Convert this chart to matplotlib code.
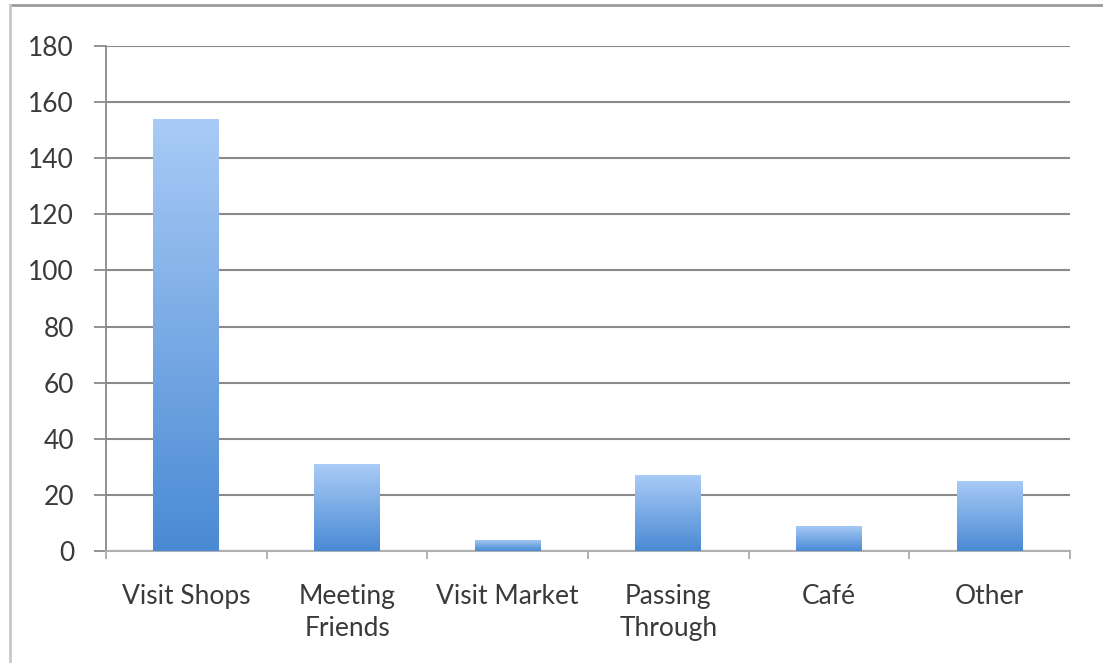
import numpy as np
import matplotlib.pyplot as plt
from matplotlib.colors import LinearSegmentedColormap
from matplotlib.lines import Line2D

categories = ["Visit Shops", "Meeting\nFriends", "Visit Market", "Passing\nThrough", "Café", "Other"]
counts = [154, 31, 4, 27, 9, 25]
y_ticks = [0, 20, 40, 60, 80, 100, 120, 140, 160, 180]

plt.rcParams['font.family'] = ['Lato', 'DejaVu Sans']

fig = plt.figure(figsize=(11.03, 6.63), dpi=100)
ax = fig.add_axes([0.0961, 0.169, 0.874, 0.7616])

x = np.arange(len(categories))
bars = ax.bar(x, counts, width=0.41, color="none", edgecolor="none", zorder=3)

# vertical gradient, light at top -> darker blue at bottom
cmap = LinearSegmentedColormap.from_list("bluegrad", ["#4a8ad4", "#a9cbf6"])
grad = np.linspace(0, 1, 256).reshape(-1, 1)
for b in bars:
    x0, y0 = b.get_x(), b.get_y()
    w, h = b.get_width(), b.get_height()
    im = ax.imshow(grad, cmap=cmap, origin="lower", aspect="auto",
                   extent=[x0, x0 + w, y0, y0 + h], zorder=3)
    im.set_clip_path(b)

ax.set_xlim(-0.5, len(categories) - 0.5)
ax.set_ylim(0, 180)
ax.set_yticks(y_ticks)
ax.yaxis.grid(True, color="#8a8a8a", linewidth=1.5, zorder=0)
ax.set_axisbelow(True)

ax.set_xticks(x)
ax.set_xticklabels(categories, fontsize=19, color="#3a3a3a", linespacing=1.36)
ax.set_xticks(np.arange(len(categories) + 1) - 0.5, minor=True)
ax.tick_params(axis="x", which="major", length=0, pad=24)
ax.tick_params(axis="x", which="minor", length=6, width=1.3, color="#aaaaaa")
ax.tick_params(axis="y", length=9, width=1.3, color="#8a8a8a",
               labelsize=19, labelcolor="#3a3a3a", pad=14)

for s in ["top", "right"]:
    ax.spines[s].set_visible(False)
ax.spines["left"].set_color("#8a8a8a")
ax.spines["left"].set_linewidth(1.3)
ax.spines["bottom"].set_color("#b0b0b0")
ax.spines["bottom"].set_linewidth(1.5)

# outer frame on top and left edges
fig.add_artist(Line2D([10 / 1103, 1], [1 - 5 / 663, 1 - 5 / 663],
                      transform=fig.transFigure, color="#9a9a9a", linewidth=2))
fig.add_artist(Line2D([10 / 1103, 10 / 1103], [0, 1 - 5 / 663],
                      transform=fig.transFigure, color="#c8c8c8", linewidth=2))

fig.savefig("out.png", dpi=100)
